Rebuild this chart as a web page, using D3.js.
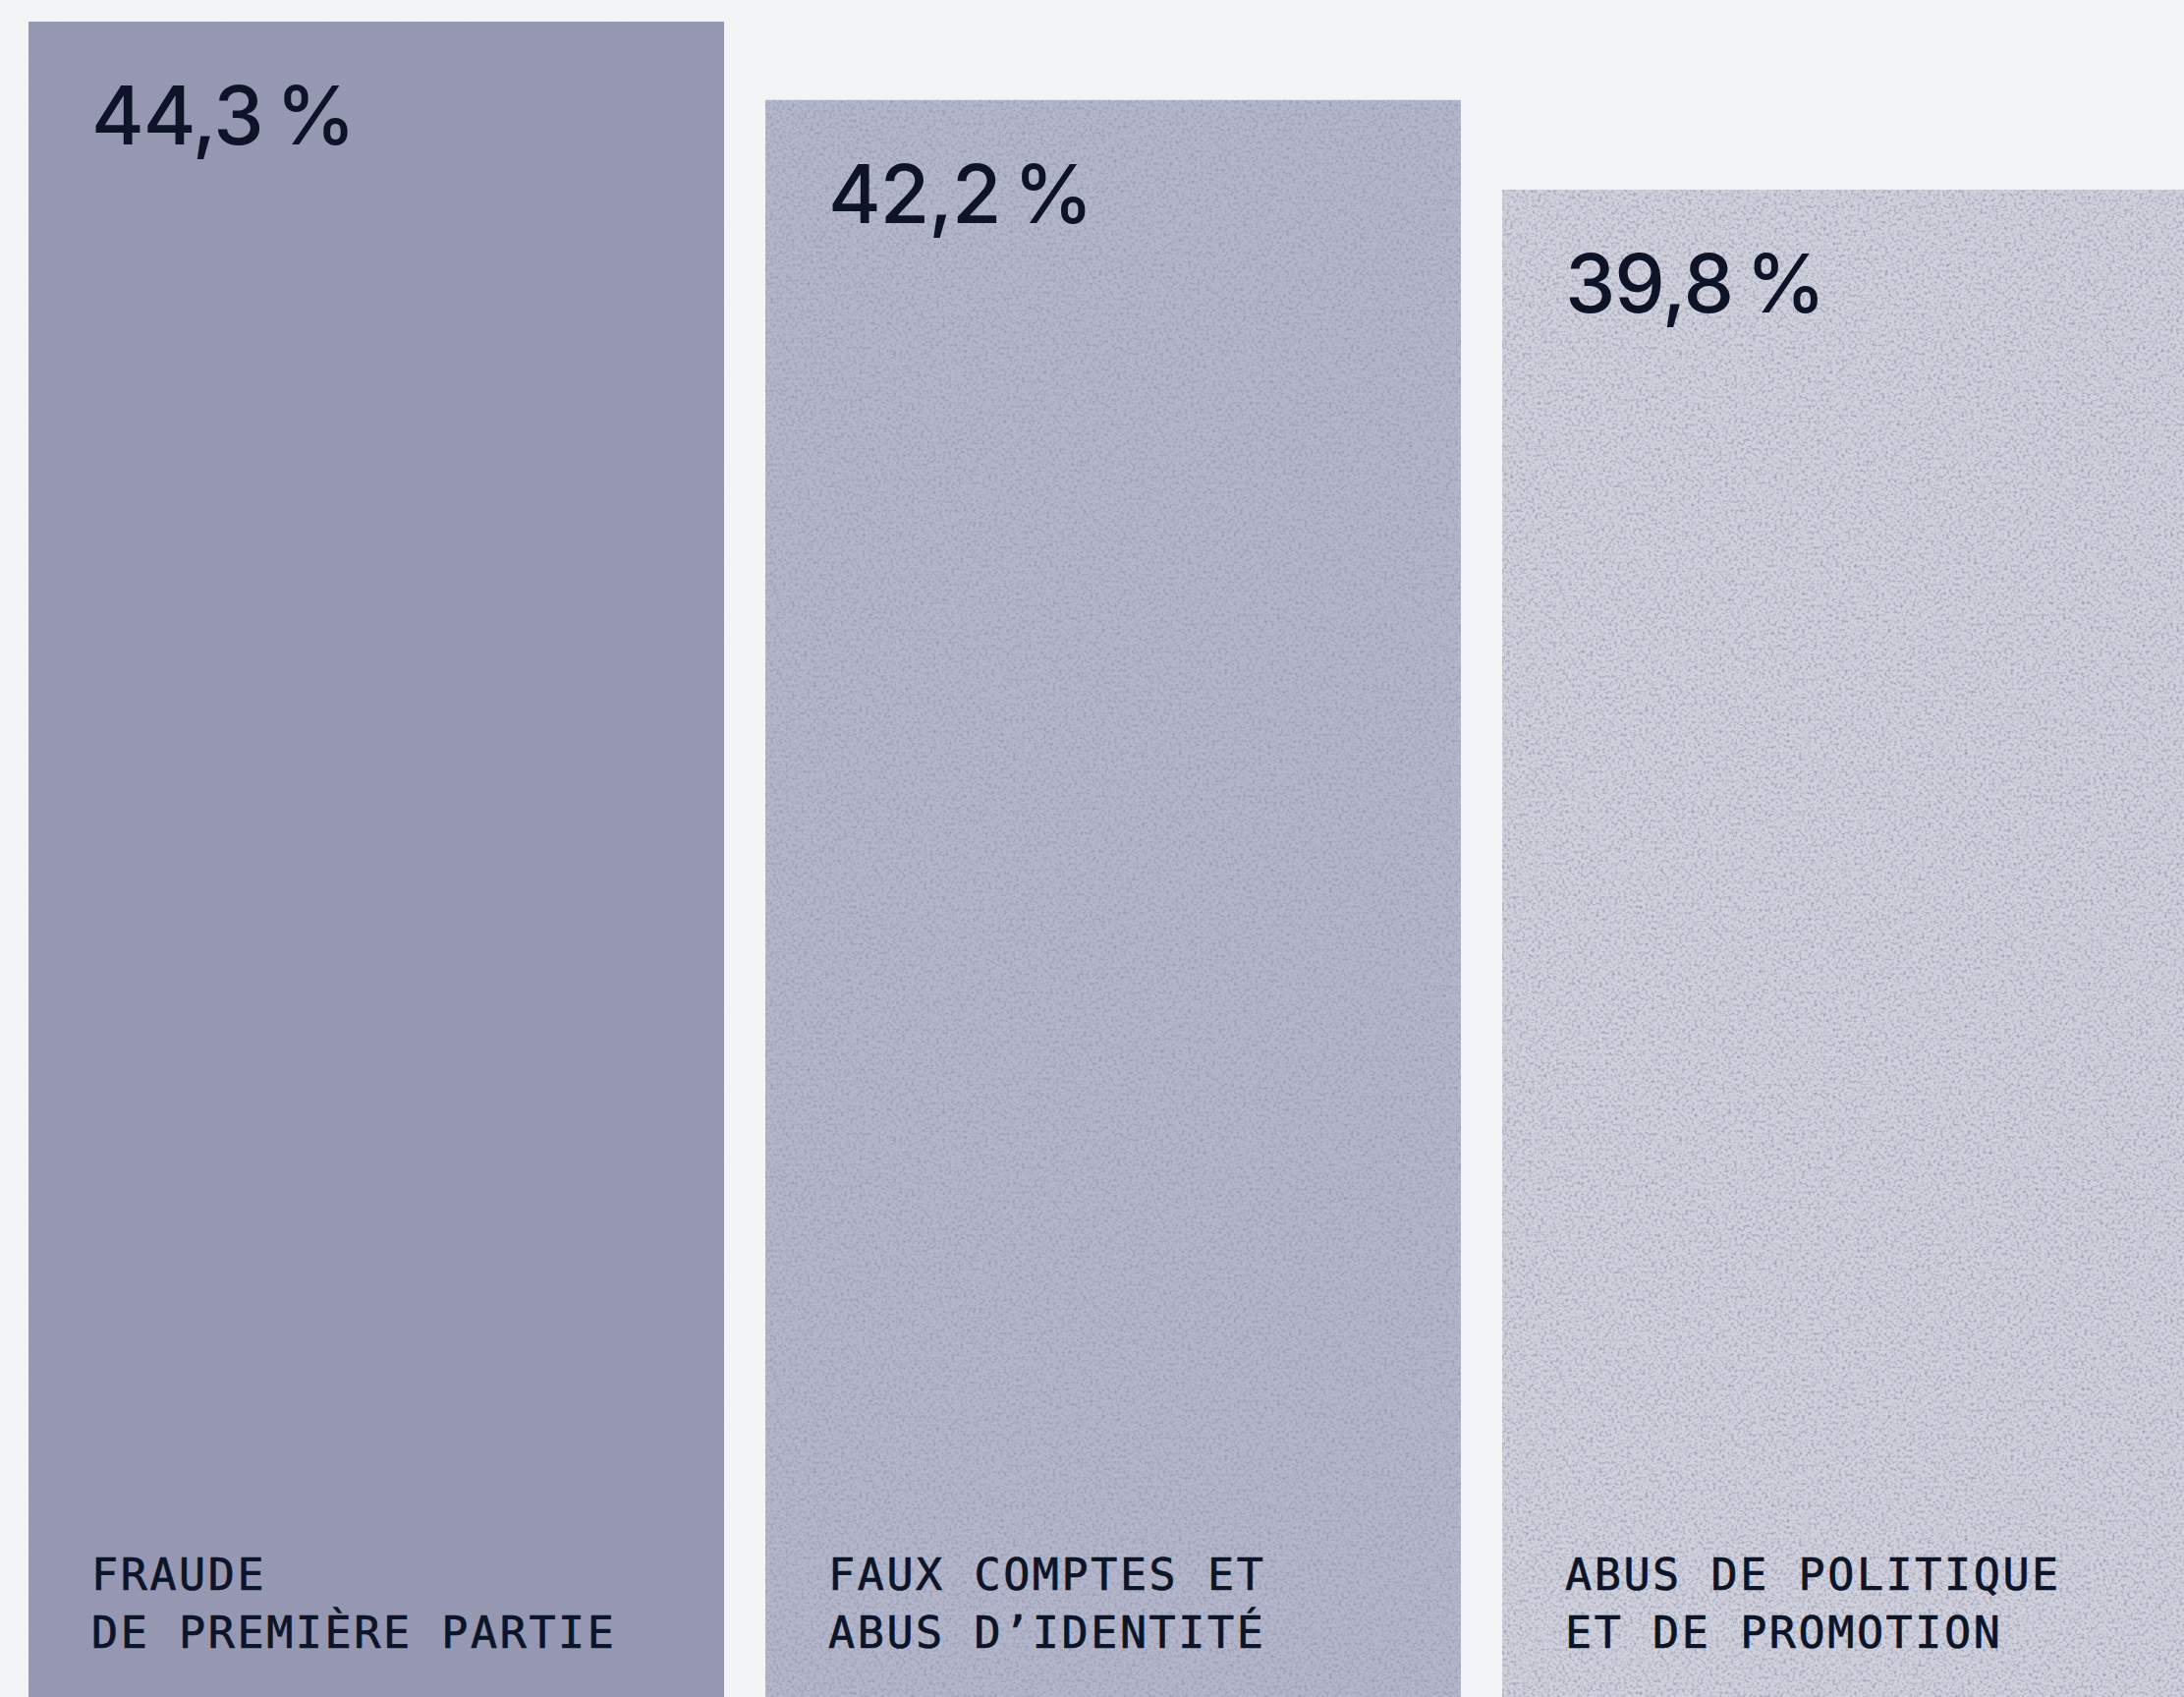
<!DOCTYPE html>
<html lang="fr">
<head>
<meta charset="utf-8">
<script src="https://cdn.jsdelivr.net/npm/d3@7"></script>
<style>
  html, body { margin: 0; padding: 0; background: #f3f4f6; overflow: hidden; }
  svg { display: block; }
</style>
</head>
<body>
<div id="chart"></div>
<script>
// Part des types de fraude signalés (%)
const categories = ["fraude", "faux", "abus"];
const labelLines = [
  ["FRAUDE", "DE PREMIÈRE PARTIE"],
  ["FAUX COMPTES ET", "ABUS D\u2019IDENTITÉ"],
  ["ABUS DE POLITIQUE", "ET DE PROMOTION"]
];
const values = [44.3, 42.2, 39.8];
const barColors = ["#9799b4", "#b4b7cb", "#d0d1dd"];

const W = 2223, H = 1727;

const data = categories.map((c, i) => ({
  key: c, lines: labelLines[i], value: values[i], color: barColors[i]
}));

const x = d3.scaleBand()
  .domain(categories)
  .range([29, 2237])
  .paddingInner(0.056)
  .paddingOuter(0);

const y = d3.scaleLinear()
  .domain([0, 44.3])
  .range([1705, 22]);

const fr = d3.formatLocale({ decimal: ",", thousands: "\u202F", grouping: [3], currency: ["", " €"] });
const fmt = v => fr.format(".1f")(v) + "\u2009%";

const svg = d3.select("#chart").append("svg")
  .attr("width", W).attr("height", H)
  .attr("viewBox", `0 0 ${W} ${H}`);

svg.append("rect").attr("width", W).attr("height", H).attr("fill", "#f3f4f6");

// fine paper grain laid over the bars
const defs = svg.append("defs");
const f = defs.append("filter").attr("id", "grain")
  .attr("x", 0).attr("y", 0).attr("width", "100%").attr("height", "100%")
  .attr("filterUnits", "objectBoundingBox");
f.append("feTurbulence").attr("type", "fractalNoise")
  .attr("baseFrequency", 0.32).attr("numOctaves", 3).attr("seed", 7).attr("result", "noise");
f.append("feColorMatrix").attr("in", "noise").attr("type", "matrix")
  .attr("values", "0 0 0 0 0.30  0 0 0 0 0.31  0 0 0 0 0.42  2.2 0 0 0 -0.98")
  .attr("result", "speck");
f.append("feComposite").attr("in", "speck").attr("in2", "SourceGraphic")
  .attr("operator", "in").attr("result", "speckIn");
const m = f.append("feMerge");
m.append("feMergeNode").attr("in", "SourceGraphic");
m.append("feMergeNode").attr("in", "speckIn");

const g = svg.selectAll("g.bar").data(data).join("g").attr("class", "bar");

g.append("rect")
  .attr("x", d => x(d.key))
  .attr("y", d => y(d.value))
  .attr("width", x.bandwidth())
  .attr("height", d => H - y(d.value))
  .attr("fill", d => d.color)
  .attr("filter", "url(#grain)");

const inset = 64;

g.append("text")
  .attr("x", d => x(d.key) + inset)
  .attr("y", d => y(d.value) + 125)
  .attr("font-family", "Inter, 'Noto Sans', sans-serif")
  .attr("font-size", 82)
  .attr("font-weight", 500)
  .attr("letter-spacing", "-1.1px")
  .attr("fill", "#0e1427")
  .text(d => fmt(d.value));

const lab = g.append("text")
  .attr("font-family", "'DejaVu Sans Mono', 'Liberation Mono', monospace")
  .attr("font-size", 45)
  .attr("letter-spacing", "2.6px")
  .attr("fill", "#0c1428")
  .attr("stroke", "#0c1428")
  .attr("stroke-width", 0.7);

lab.selectAll("tspan").data(d => d.lines.map(l => ({ l, x: x(d.key) + inset })))
  .join("tspan")
  .attr("x", t => t.x)
  .attr("y", (t, i) => 1618 + i * 59)
  .text(t => t.l);
</script>
</body>
</html>
